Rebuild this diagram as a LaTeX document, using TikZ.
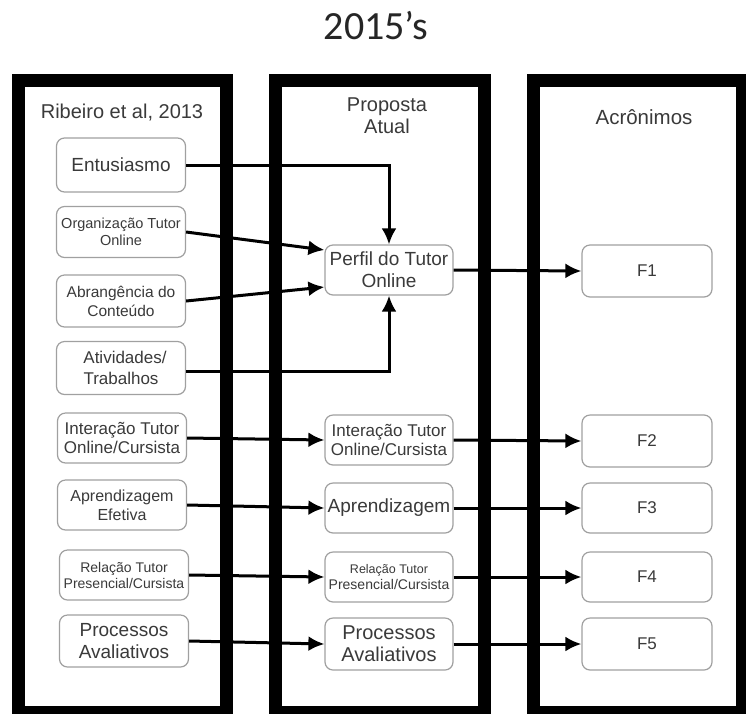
\documentclass[tikz,border=0pt]{standalone}
\usepackage{fontspec}
\setmainfont{Liberation Sans}
\newfontfamily\titlefont{Carlito}
\usetikzlibrary{arrows.meta,calc}
\newcommand{\fsz}[1]{\fontsize{#1}{1.2\dimexpr#1pt\relax}\selectfont}
\definecolor{txt}{HTML}{3A3A3A}
\definecolor{bord}{HTML}{A0A0A0}
\tikzset{
  frame/.style={draw=black,line width=13pt},
  bx/.style={draw=bord,line width=1.2pt,rounded corners=8pt,fill=white,text=txt,align=center,
    minimum width=129pt,minimum height=51pt,inner sep=1pt},
  hdr/.style={text=txt,align=center},
  arr/.style={draw=black,line width=3pt,-{Latex[length=16pt,width=15pt]}}
}
\begin{document}
\begin{tikzpicture}[x=1pt,y=-1pt]
\useasboundingbox (0,0) rectangle (746,713);
\fill[white] (0,0) rectangle (746,713);
% title
\node[font=\titlefont\fsz{40},text=black!85] (title) at (376,26) {2015’s};
% frames
\draw[frame] (18.5,80) rectangle (226.5,712);
\draw[frame] (275,80) rectangle (484,712);
\draw[frame] (533.5,80) rectangle (742,712);
% headers
\node[hdr,font=\fsz{20}] (h1) at (122,113) {Ribeiro et al, 2013};
\node[hdr,font=\fontsize{20}{22}\selectfont] (h2) at (387,116) {Proposta\\Atual};
\node[hdr,font=\fsz{20.5}] (h3) at (644,117) {Acrônimos};
% left boxes
\node[bx,font=\fsz{19},minimum height=54pt] (e1) at (121,165) {Entusiasmo};
\node[bx,font=\fontsize{14.5}{17}\selectfont] (e2) at (121,232) {Organização Tutor\\Online};
\node[bx,font=\fontsize{15.5}{19}\selectfont,minimum height=52pt] (e3) at (121,301) {Abrangência do\\Conteúdo};
\node[bx,font=\fontsize{17}{21}\selectfont,minimum height=53pt] (e4) at (121,368) {\hspace*{8pt}Atividades/\\Trabalhos};
\node[bx,font=\fontsize{17}{19}\selectfont,minimum height=50pt] (e5) at (122,438) {Interação Tutor\\Online/Cursista};
\node[bx,font=\fontsize{16}{19}\selectfont,minimum height=50pt] (e6) at (122,505) {Aprendizagem\\Efetiva};
\node[bx,font=\fontsize{14}{16}\selectfont,minimum height=50pt] (e7) at (124,575) {Relação Tutor\\Presencial/Cursista};
\node[bx,font=\fontsize{19}{22}\selectfont,minimum height=52pt] (e8) at (124,641) {Processos\\Avaliativos};
% middle boxes
\node[bx,font=\fontsize{19}{22}\selectfont,minimum width=128pt,minimum height=50pt] (m1) at (389,270) {Perfil do Tutor\\Online};
\node[bx,font=\fontsize{17}{19}\selectfont,minimum width=128pt,minimum height=50pt] (m2) at (389,440) {Interação Tutor\\Online/Cursista};
\node[bx,font=\fsz{19},minimum width=128pt,minimum height=50pt] (m3) at (389,508) {Aprendizagem};
\node[bx,font=\fontsize{14}{16}\selectfont,minimum width=128pt,minimum height=50pt] (m4) at (389,577) {{\fontsize{12.5}{14}\selectfont Relação Tutor}\\Presencial/Cursista};
\node[bx,font=\fontsize{20}{22}\selectfont,minimum width=128pt,minimum height=52pt] (m5) at (389,644) {Processos\\Avaliativos};
% right boxes
\node[bx,font=\fsz{17},minimum width=130pt,minimum height=52pt] (f1) at (647,271) {F1};
\node[bx,font=\fsz{17},minimum width=130pt,minimum height=52pt] (f2) at (647,441) {F2};
\node[bx,font=\fsz{17},minimum width=130pt,minimum height=50pt] (f3) at (647,508) {F3};
\node[bx,font=\fsz{17},minimum width=130pt,minimum height=50pt] (f4) at (647,577) {F4};
\node[bx,font=\fsz{17},minimum width=130pt,minimum height=52pt] (f5) at (647,644) {F5};
% connectors
\draw[arr] (e1.east) -| (m1.north);
\draw[arr] (e2.east) -- ($(m1.west)+(0,-20)$);
\draw[arr] (e3.east) -- ($(m1.west)+(0,17)$);
\draw[arr] ($(e4.east)+(0,3)$) -| (m1.south);
\draw[arr] (m1.east) -- (f1.west);
\draw[arr] (e5.east) -- (m2.west);
\draw[arr] (m2.east) -- (f2.west);
\draw[arr] (e6.east) -- (m3.west);
\draw[arr] (m3.east) -- (f3.west);
\draw[arr] (e7.east) -- (m4.west);
\draw[arr] (m4.east) -- (f4.west);
\draw[arr] (e8.east) -- (m5.west);
\draw[arr] (m5.east) -- (f5.west);
\end{tikzpicture}
\end{document}
